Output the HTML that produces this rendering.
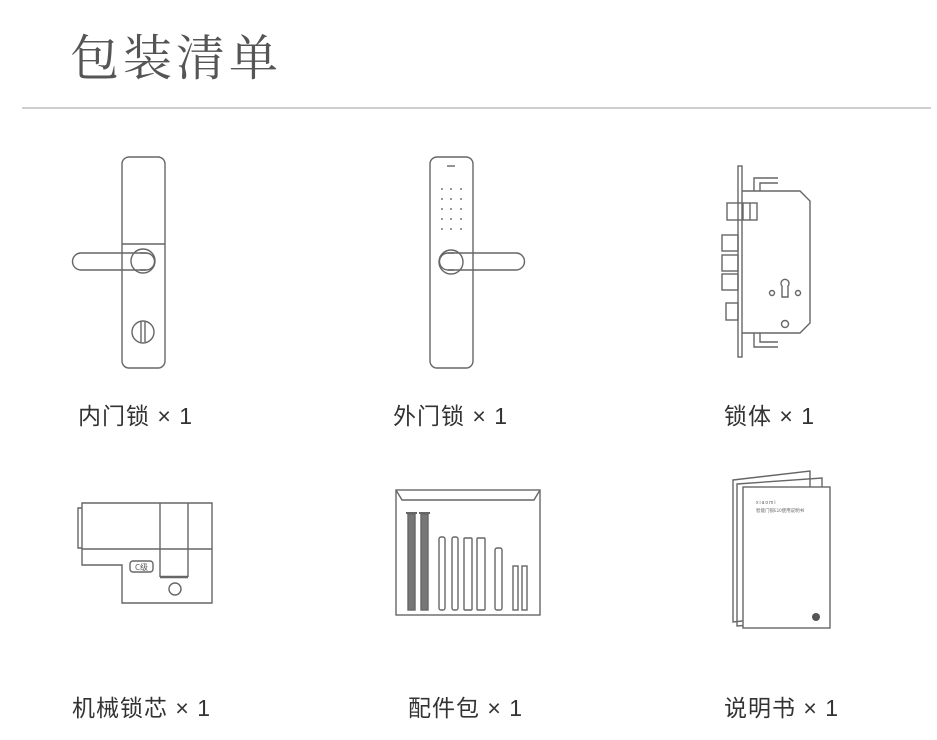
<!DOCTYPE html>
<html><head><meta charset="utf-8"><style>
html,body{margin:0;padding:0;background:#fff;width:937px;height:740px;overflow:hidden}
.t{position:absolute;left:70px;top:20px;font:49px "Noto Serif CJK SC",serif;color:#555;letter-spacing:4px}
.hr{position:absolute;left:22px;top:107px;width:909px;height:2px;background:#cfcfcf}
.l{position:absolute;font:23px "Liberation Sans","Noto Sans CJK SC",sans-serif;color:#333;white-space:nowrap;letter-spacing:1px}
svg{position:absolute;left:0;top:0}
</style></head><body>
<div class="t">包装清单</div>
<div class="hr"></div>
<svg width="937" height="740" fill="none" stroke="#666" stroke-width="1.4">
<!-- inner lock -->
<rect x="122" y="157" width="43" height="211" rx="7"/>
<line x1="122" y1="244" x2="165" y2="244"/>
<path d="M146 253 H81 a8.5 8.5 0 0 0 0 17 H146"/>
<circle cx="143" cy="261" r="12"/>
<path d="M140 253 H146 a8.5 8.5 0 0 1 0 17 H140"/>
<circle cx="143" cy="332" r="11"/>
<line x1="141" y1="322" x2="141" y2="342"/><line x1="145" y1="322" x2="145" y2="342"/>
<!-- outer lock -->
<rect x="430" y="157" width="43" height="211" rx="7"/>
<line x1="447" y1="166" x2="455" y2="166"/>
<g fill="#777" stroke="none">
<circle cx="442" cy="189" r="1"/><circle cx="451" cy="189" r="1"/><circle cx="461" cy="189" r="1"/>
<circle cx="442" cy="199" r="1"/><circle cx="451" cy="199" r="1"/><circle cx="461" cy="199" r="1"/>
<circle cx="442" cy="209" r="1"/><circle cx="451" cy="209" r="1"/><circle cx="461" cy="209" r="1"/>
<circle cx="442" cy="219" r="1"/><circle cx="451" cy="219" r="1"/><circle cx="461" cy="219" r="1"/>
<circle cx="442" cy="229" r="1"/><circle cx="451" cy="229" r="1"/><circle cx="461" cy="229" r="1"/>
</g>
<path d="M448 253 H516 a8.5 8.5 0 0 1 0 17 H448"/>
<circle cx="451" cy="262" r="12"/>
<path d="M454 253 H448 a8.5 8.5 0 0 0 0 17 H454"/>
<!-- lock body -->
<rect x="738" y="166" width="4" height="191"/>
<path d="M742 191 H800 L810 201 V323 L800 333 H742"/>
<path d="M754 191 V178 H778 M760 191 V183 H778"/>
<path d="M754 333 V347 H778 M760 333 V342 H778"/>
<rect x="727" y="203" width="30" height="17"/>
<line x1="743" y1="203" x2="743" y2="220"/><line x1="750" y1="203" x2="750" y2="220"/>
<rect x="722" y="235" width="16" height="16"/><rect x="722" y="255" width="16" height="16"/>
<rect x="722" y="274" width="16" height="16"/><rect x="726" y="303" width="12" height="17"/>
<path d="M782 297 V286 a4 4 0 1 1 6 0 V297 Z"/>
<circle cx="772" cy="293" r="2.5"/><circle cx="798" cy="293" r="2.5"/>
<circle cx="785" cy="324" r="3.5"/>
<!-- cylinder -->
<path d="M82 503 H212 V603 H122 V565 H82 Z"/>
<line x1="82" y1="549" x2="212" y2="549"/>
<line x1="160" y1="503" x2="160" y2="577"/><line x1="188" y1="503" x2="188" y2="577"/>
<line x1="160" y1="577" x2="188" y2="577" stroke-width="2.5"/>
<path d="M82 508 H78 V548 H82"/>
<circle cx="175" cy="589" r="6"/>
<rect x="130" y="561" width="23" height="11" rx="3"/>
<text x="141.5" y="570" font-size="8" fill="#555" stroke="none" text-anchor="middle" font-family="Noto Sans CJK SC,sans-serif">C级</text>
<!-- accessory bag -->
<rect x="396" y="490" width="144" height="125"/>
<path d="M396 490 L402 500 H534 L540 490"/>
<rect x="408" y="514" width="7" height="96" fill="#777"/><rect x="421" y="514" width="7" height="96" fill="#777"/>
<line x1="406" y1="513" x2="417" y2="513" stroke-width="2"/><line x1="419" y1="513" x2="430" y2="513" stroke-width="2"/>
<rect x="439" y="537" width="6" height="73" rx="2"/><rect x="452" y="537" width="6" height="73" rx="2"/>
<rect x="464" y="538" width="8" height="72" rx="1"/><rect x="477" y="538" width="8" height="72" rx="1"/>
<rect x="495" y="548" width="7" height="62" rx="2"/>
<rect x="513" y="566" width="5" height="44"/><rect x="522" y="566" width="5" height="44"/>
<!-- manual -->
<path d="M733 480 L810 471 V614 L733 622 Z"/>
<path d="M737 484 L822 478 V620 L737 626 Z"/>
<rect x="743" y="487" width="87" height="141" fill="#fff"/>
<text x="756" y="504" font-size="5" fill="#666" stroke="none" font-family="Liberation Sans,sans-serif" letter-spacing="1">xiaomi</text>
<text x="756" y="512" font-size="4.5" fill="#666" stroke="none" font-family="Noto Sans CJK SC,sans-serif">智能门锁E10使用说明书</text>
<circle cx="816" cy="617" r="4" fill="#555" stroke="none"/>
</svg>
<div class="l" style="left:78px;top:397px">内门锁 × 1</div>
<div class="l" style="left:393px;top:397px">外门锁 × 1</div>
<div class="l" style="left:724px;top:397px">锁体 × 1</div>
<div class="l" style="left:72px;top:689px">机械锁芯 × 1</div>
<div class="l" style="left:408px;top:689px">配件包 × 1</div>
<div class="l" style="left:724px;top:689px">说明书 × 1</div>
</body></html>
